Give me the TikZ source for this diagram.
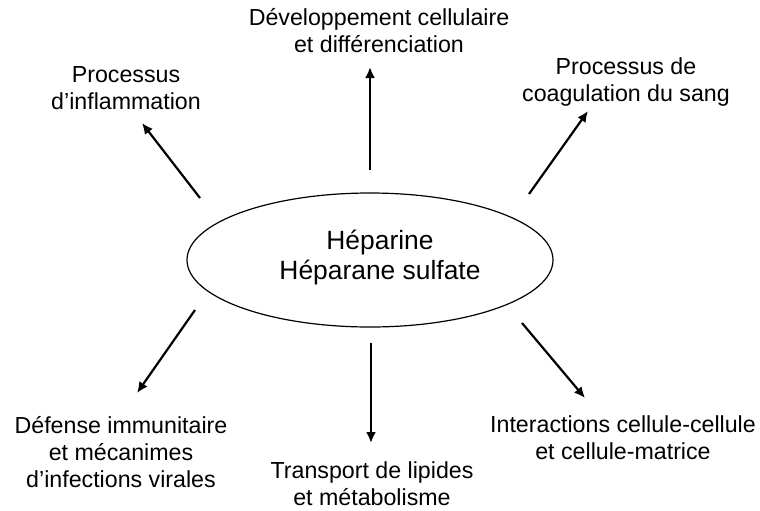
\documentclass[tikz,border=0pt]{standalone}
\usepackage{fontspec}
\setmainfont{Liberation Sans}
\usetikzlibrary{arrows.meta,positioning,shapes.geometric}

\begin{document}
\begin{tikzpicture}[x=0.5pt,y=-0.5pt,
  topic/.style={align=center,inner sep=0pt,font=\fontsize{11.6}{13.5}\selectfont},
  link/.style={line width=1.1pt,-{Latex[length=5.5pt,width=5pt]}}]
\useasboundingbox (0,0) rectangle (760,510);
% centre
\node[draw,ellipse,line width=0.6pt,minimum width=183pt,minimum height=67pt,inner sep=0pt] (hep) at (370,260) {};
\node[align=center,inner sep=0pt,font=\fontsize{13.2}{15}\selectfont] (heptext) at (380,258) {Héparine\\Héparane sulfate};
% upper row
\node[topic] (infl) at (126,88) {Processus\\d’inflammation};
\node[topic] (dev) at (379,31) {Développement cellulaire\\et différenciation};
\node[topic] (coag) at (626,82) {Processus de\\coagulation du sang};
% lower row
\node[topic] (def) at (121,452) {Défense immunitaire\\et mécanimes\\d’infections virales};
\node[topic] (transp) at (372,484) {Transport de lipides\\et métabolisme};
\node[topic] (inter) at (623,438) {Interactions cellule-cellule\\et cellule-matrice};
% arrow ends
\coordinate (infl-a) at (200,198);
\coordinate (infl-b) at (142,123);
\coordinate (dev-a) at (370,170);
\coordinate (dev-b) at (370,67);
\coordinate (coag-a) at (529,194);
\coordinate (coag-b) at (588,111);
\coordinate (def-a) at (195,310);
\coordinate (def-b) at (137,393);
\coordinate (transp-a) at (371,343);
\coordinate (transp-b) at (371,443);
\coordinate (inter-a) at (522,323);
\coordinate (inter-b) at (585,398);
\draw[link] (infl-a) -- (infl-b);
\draw[link] (dev-a) -- (dev-b);
\draw[link] (coag-a) -- (coag-b);
\draw[link] (def-a) -- (def-b);
\draw[link] (transp-a) -- (transp-b);
\draw[link] (inter-a) -- (inter-b);
\end{tikzpicture}
\end{document}
